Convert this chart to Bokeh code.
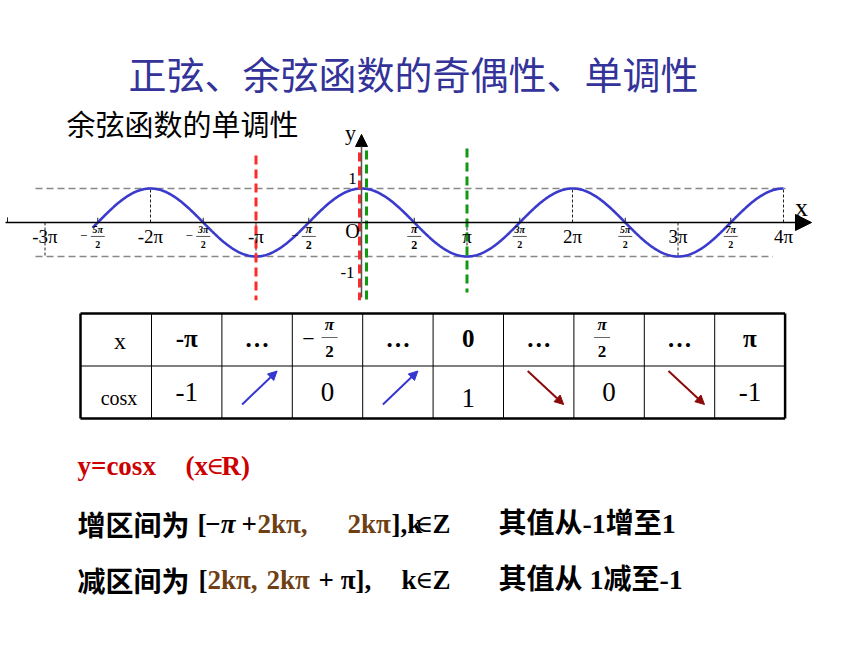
import numpy as np
from bokeh.plotting import figure
from bokeh.models import Range1d, Label, Arrow, NormalHead
from bokeh.embed import file_html
from bokeh.resources import INLINE
from bokeh.core.properties import value

PI = np.pi

# ---------------- data ----------------
title_text = "正弦、余弦函数的奇偶性、单调性"
subtitle_text = "余弦函数的单调性"

curve_start = -2.55      # in units of pi
curve_end = 4.0

major_ticks = [-3, -2, -1, 1, 2, 3, 4]           # multiples of pi
major_labels = ["-3π", "-2π", "-π", "π", "2π", "3π", "4π"]
half_ticks = [-2.5, -1.5, -0.5, 0.5, 1.5, 2.5, 3.5]
half_nums = ["5π", "3π", "π", "π", "3π", "5π", "7π"]

inc_interval = [-1.0, 0.0]   # red markers (units of pi)
dec_interval = [0.0, 1.0]    # green markers

table_x = ["-π", "…", "−π/2", "…", "0", "…", "π/2", "…", "π"]
table_cos = ["-1", "up", "0", "up", "1", "down", "0", "down", "-1"]

# ---------------- figure ----------------
W, H = 860, 645
p = figure(width=W, height=H, x_range=Range1d(0, W), y_range=Range1d(H, 0),
           output_backend="svg", toolbar_location=None, min_border=0,
           x_axis_location=None, y_axis_location=None)
p.grid.visible = False
p.outline_line_color = None
p.background_fill_color = "white"

# graph coordinate system (x in radians, y in cos units)
PX0, PXPI, PY0, PYU = 361.0, 105.5, 222.0, 34.0
p.extra_x_ranges = {"gx": Range1d((0 - PX0) / PXPI * PI, (W - PX0) / PXPI * PI)}
p.extra_y_ranges = {"gy": Range1d((PY0 - H) / PYU, (PY0 - 0) / PYU)}
G = dict(x_range_name="gx", y_range_name="gy")
px = lambda n: n / PXPI * PI   # pixel offset -> radians

SERIF = "Liberation Serif"
CJK = "Noto Sans CJK SC"
MIX = "Liberation Serif, Noto Sans CJK SC"
SYM = "DejaVu Serif"

# title / subtitle
p.add_layout(Label(x=413, y=72, text=title_text, text_align="center", text_baseline="middle",
                   text_font=CJK, text_font_size="38px", text_color="#333399"))
p.add_layout(Label(x=66, y=122, text=subtitle_text, text_align="left", text_baseline="middle",
                   text_font=CJK, text_font_size="29px", text_color="black"))

# horizontal dashed guides at y = 1 and y = -1
p.segment(x0=[-3.09 * PI, -3.09 * PI], y0=[1, -1], x1=[4.02 * PI, 3.9 * PI], y1=[1, -1],
          line_color="#888888", line_width=1.5, line_dash="7 4", **G)

# vertical thin dashed to extremes
mt = np.array(major_ticks, dtype=float) * PI
p.segment(x0=mt, y0=np.zeros(len(mt)), x1=mt, y1=np.cos(mt),
          line_color="#222222", line_width=1, line_dash="3 2", **G)

# small ticks
ht = np.array(half_ticks) * PI
p.segment(x0=ht, y0=np.zeros(len(ht)), x1=ht, y1=np.full(len(ht), 0.14),
          line_color="#222222", line_width=1, **G)
p.segment(x0=[px(7 - PX0)], y0=[0], x1=[px(7 - PX0)], y1=[0.15],
          line_color="#222222", line_width=1, **G)

# x axis
p.add_layout(Arrow(x_start=px(5 - PX0), y_start=0, x_end=px(811 - PX0), y_end=0,
                   line_color="black", line_width=1.3,
                   end=NormalHead(size=16, fill_color="black", line_color="black"), **G))
# y axis
p.add_layout(Arrow(x_start=0, y_start=(PY0 - 297) / PYU, x_end=0, y_end=(PY0 - 134) / PYU,
                   line_color="#555555", line_width=1.5,
                   end=NormalHead(size=12, fill_color="black", line_color="black"), **G))

# curve
xs = np.linspace(curve_start * PI, curve_end * PI, 800)
p.line(xs, np.cos(xs), line_color="#3a3acc", line_width=2.6, **G)

# interval markers
for x0, off in zip(inc_interval, [0, -2]):
    top = 1.97 if x0 != 0 else 2.06
    p.segment(x0=[x0 * PI + px(off)], y0=[top], x1=[x0 * PI + px(off)], y1=[-2.29],
              line_color="#ff2a2a", line_width=3, line_dash="9 5", **G)
for x0, off in zip(dec_interval, [5, 0]):
    top = 2.12 if x0 == 0 else 2.18
    bot = -2.29 if x0 == 0 else -2.06
    p.segment(x0=[x0 * PI + px(off)], y0=[top], x1=[x0 * PI + px(off)], y1=[bot],
              line_color="#119911", line_width=3, line_dash="9 5", **G)

# major tick labels
p.text(x=mt, y=np.full(len(mt), -0.42), text=major_labels, text_font=value(SERIF),
       text_font_size="19px", text_align="center", text_baseline="middle", text_color="black", **G)
# half tick labels (fractions)
hsize = ["10px" if abs(t) > 1 else "12px" for t in half_ticks]
for t, num, fs in zip(half_ticks, half_nums, hsize):
    x = t * PI
    p.text(x=[x], y=[-0.2], text=[num], text_font=value(SERIF), text_font_style="bold italic",
           text_font_size=fs, text_align="center", text_baseline="middle", **G)
    p.text(x=[x], y=[-0.66], text=["2"], text_font=value(SERIF), text_font_style="bold",
           text_font_size=fs, text_align="center", text_baseline="middle", **G)
    p.segment(x0=[x - px(7)], y0=[-0.41], x1=[x + px(7)], y1=[-0.41],
              line_color="#555555", line_width=1, **G)
    if t < 0:
        p.text(x=[x - px(14)], y=[-0.41], text=["−"], text_font=value(SERIF),
               text_font_size="13px", text_align="center", text_baseline="middle", **G)

# axis labels
p.text(x=[px(-9)], y=[-0.24], text=["O"], text_font=value(SERIF), text_font_size="20px",
       text_align="center", text_baseline="middle", **G)
p.text(x=[px(-9)], y=[1.29], text=["1"], text_font=value(SERIF), text_font_size="17px",
       text_align="center", text_baseline="middle", **G)
p.text(x=[px(-14)], y=[-1.47], text=["-1"], text_font=value(SERIF), text_font_size="17px",
       text_align="center", text_baseline="middle", **G)
p.text(x=[px(801 - PX0)], y=[0.44], text=["x"], text_font=value(SERIF), text_font_size="26px",
       text_align="center", text_baseline="middle", **G)
p.text(x=[px(-11)], y=[2.65], text=["y"], text_font=value(SERIF), text_font_size="22px",
       text_align="center", text_baseline="middle", **G)

# ---------------- table ----------------
TL, TT, HW, CW, RH = 80.0, 313.0, 71.0, 70.4, 52.5
ncol = len(table_x)
bounds = [TL] + [TL + HW + i * CW for i in range(ncol + 1)]
TR = bounds[-1]
TB = TT + 2 * RH
centers = [(bounds[i] + bounds[i + 1]) / 2 for i in range(1, ncol + 1)]
# inner lines
p.segment(x0=bounds[1:-1], y0=[TT] * (ncol), x1=bounds[1:-1], y1=[TB] * (ncol),
          line_color="black", line_width=1)
p.segment(x0=[TL], y0=[TT + RH], x1=[TR], y1=[TT + RH], line_color="black", line_width=1)
# outer frame
p.segment(x0=[TL, TL, TL, TR], y0=[TT, TB, TT, TT], x1=[TR, TR, TL, TR], y1=[TT, TB, TB, TB],
          line_color="black", line_width=2.5)

R1 = TT + RH / 2 + 1
R2 = TT + RH * 1.5 + 3
p.text(x=[(bounds[0] + bounds[1]) / 2 + 4], y=[R1], text=["x"], text_font=value(SERIF),
       text_font_size="24px", text_align="center", text_baseline="middle")
p.text(x=[(bounds[0] + bounds[1]) / 2 + 3], y=[R2 + 3], text=["cosx"], text_font=value(SERIF),
       text_font_size="20px", text_align="center", text_baseline="middle")

for cx, lab in zip(centers, table_x):
    if "/" in lab:
        neg = lab.startswith("−")
        fx = cx + 2 if neg else cx - 7
        p.text(x=[fx], y=[TT + 11], text=["π"], text_font=value(SERIF), text_font_style="bold italic",
               text_font_size="17px", text_align="center", text_baseline="middle")
        p.segment(x0=[fx - 8], y0=[TT + 24], x1=[fx + 8], y1=[TT + 24], line_color="#666666", line_width=1)
        p.text(x=[fx], y=[TT + 38], text=["2"], text_font=value(SERIF), text_font_style="bold",
               text_font_size="17px", text_align="center", text_baseline="middle")
        if neg:
            p.text(x=[cx - 19], y=[TT + 25], text=["−"], text_font=value(SERIF),
                   text_font_size="22px", text_align="center", text_baseline="middle")
    else:
        p.text(x=[cx], y=[R1 - 2], text=[lab], text_font=value(SERIF), text_font_style="bold",
               text_font_size="25px", text_align="center", text_baseline="middle")

for cx, v in zip(centers, table_cos):
    if v == "up":
        p.add_layout(Arrow(x_start=cx - 15, y_start=TB - 14, x_end=cx + 20, y_end=TT + RH + 5,
                           line_color="#3535d0", line_width=2,
                           end=NormalHead(size=9, fill_color="#3535d0", line_color="#3535d0")))
    elif v == "down":
        p.add_layout(Arrow(x_start=cx - 11, y_start=TT + RH + 5, x_end=cx + 25, y_end=TB - 14,
                           line_color="#8b0a0a", line_width=2,
                           end=NormalHead(size=9, fill_color="#8b0a0a", line_color="#8b0a0a")))
    else:
        p.text(x=[cx], y=[R2 - 3 if v != "1" else R2 + 3], text=[v], text_font=value(SERIF),
               text_font_size="27px", text_align="center", text_baseline="middle")

# ---------------- text block ----------------
RED = "#cc0000"
BROWN = "#6e4014"
def lab(x, y, t, color="black", font=SERIF, size="27px", style="bold"):
    p.add_layout(Label(x=x, y=y, text=t, text_align="left", text_baseline="middle",
                       text_font=font, text_font_size=size, text_font_style=style, text_color=color))

ES = "24px"   # size of the element-of symbol
Y1, Y2, Y3 = 465, 523, 579
lab(77, Y1, "y=cosx", color=RED)
lab(185, Y1, "(x", color=RED)
lab(206, Y1, "∈", color=RED, font=SYM, size=ES, style="normal")
lab(221, Y1, "R)", color=RED)

lab(77, Y2, "增区间为", font=CJK, size="28px")
lab(197, Y2, "[")
lab(204, Y2, "−π", style="bold italic")
lab(241, Y2, "+")
lab(257, Y2, "2kπ,", color=BROWN)
lab(347, Y2, "2kπ", color=BROWN)
lab(391, Y2, "],k")
lab(415, Y2, "∈", font=SYM, size=ES, style="normal")
lab(432, Y2, "Z")
lab(498, Y2, "其值从-1增至1", font=MIX, size="28px")

lab(77, Y3, "减区间为", font=CJK, size="28px")
lab(198, Y3, "[")
lab(207, Y3, "2kπ,", color=BROWN)
lab(266, Y3, "2kπ", color=BROWN)
lab(318, Y3, "+ π],")
lab(401, Y3, "k")
lab(415, Y3, "∈", font=SYM, size=ES, style="normal")
lab(432, Y3, "Z")
lab(498, Y3, "其值从 1减至-1", font=MIX, size="28px")

open("out.html", "w").write(file_html(p, INLINE))
